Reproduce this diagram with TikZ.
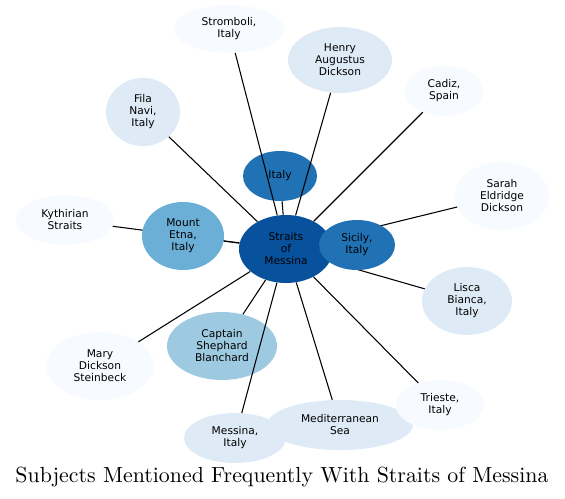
\documentclass[tikz,border=0pt]{standalone}
\usepackage{fontspec}
\usepackage{tikz}
\usetikzlibrary{shapes.geometric}
\newfontfamily\bubfont{DejaVu Sans}
\newfontfamily\titlefont{lmroman10-regular.otf}
\definecolor{blue0}{HTML}{f7fbff}
\definecolor{blue1}{HTML}{deebf7}
\definecolor{blue2}{HTML}{9ecae1}
\definecolor{blue3}{HTML}{6baed6}
\definecolor{blue4}{HTML}{2171b5}
\definecolor{blue5}{HTML}{08519c}
\pgfdeclarelayer{front}
\pgfsetlayers{main,front}

\begin{document}
\begin{tikzpicture}[x=0.75pt, y=-0.75pt,
  bub/.style n args={3}{ellipse, inner sep=0pt, align=center,
    minimum width={#1*1.5pt}, minimum height={#2*1.5pt}, fill=#3,
    font=\bubfont\fontsize{8}{9}\selectfont},
  link/.style={line width=0.8pt}]
  \useasboundingbox (0,0) rectangle (565,499);

  % Outer ring
  \node[bub={55}{24}{blue0}] (strom) at (229,29) {Stromboli,\\Italy};
  \node[bub={52}{33}{blue1}] (henry) at (340,60) {Henry\\Augustus\\Dickson};
  \node[bub={39}{25}{blue0}] (cadiz) at (444,91) {Cadiz,\\Spain};
  \node[bub={37}{34}{blue1}] (fila) at (143,112) {Fila\\Navi,\\Italy};
  \node[bub={47}{34}{blue0}] (sarah) at (502,196) {Sarah\\Eldridge\\Dickson};
  \node[bub={49}{25}{blue0}] (kyth) at (65,220) {Kythirian\\Straits};
  \node[bub={45}{34}{blue1}] (lisca) at (467,301) {Lisca\\Bianca,\\Italy};
  \node[bub={55}{34}{blue2}] (capt) at (222,346) {Captain\\Shephard\\Blanchard};
  \node[bub={54}{34}{blue0}] (mary) at (100,366) {Mary\\Dickson\\Steinbeck};
  \node[bub={51}{25}{blue1}] (messina) at (235,438) {Messina,\\Italy};
  \node[bub={73}{25}{blue1}] (medit) at (340,425) {Mediterranean\\Sea};
  \node[bub={44}{25}{blue0}] (trieste) at (440,405) {Trieste,\\Italy};

  % Inner nodes
  \node[bub={37}{25}{blue4}] (italy) at (280,176) {Italy};
  \node[bub={47}{34}{blue5}] (straits) at (286,249) {Straits\\of\\Messina};
  \begin{pgfonlayer}{front}
    \node[bub={41}{34}{blue3}] (etna) at (183,236) {Mount\\Etna,\\Italy};
    \node[bub={38}{25}{blue4}] (sicily) at (357,245) {Sicily,\\Italy};
  \end{pgfonlayer}

  % Links to the centre
  \foreach \n in {strom,henry,cadiz,fila,italy,sarah,kyth,etna,sicily,lisca,capt,mary,trieste,medit,messina}
    \draw[link] (straits) -- (\n);

  % Title
  \node[anchor=base, font=\titlefont\fontsize{16.4}{19}\selectfont] (title) at (282,483)
    {Subjects Mentioned Frequently With Straits of Messina};
\end{tikzpicture}
\end{document}
